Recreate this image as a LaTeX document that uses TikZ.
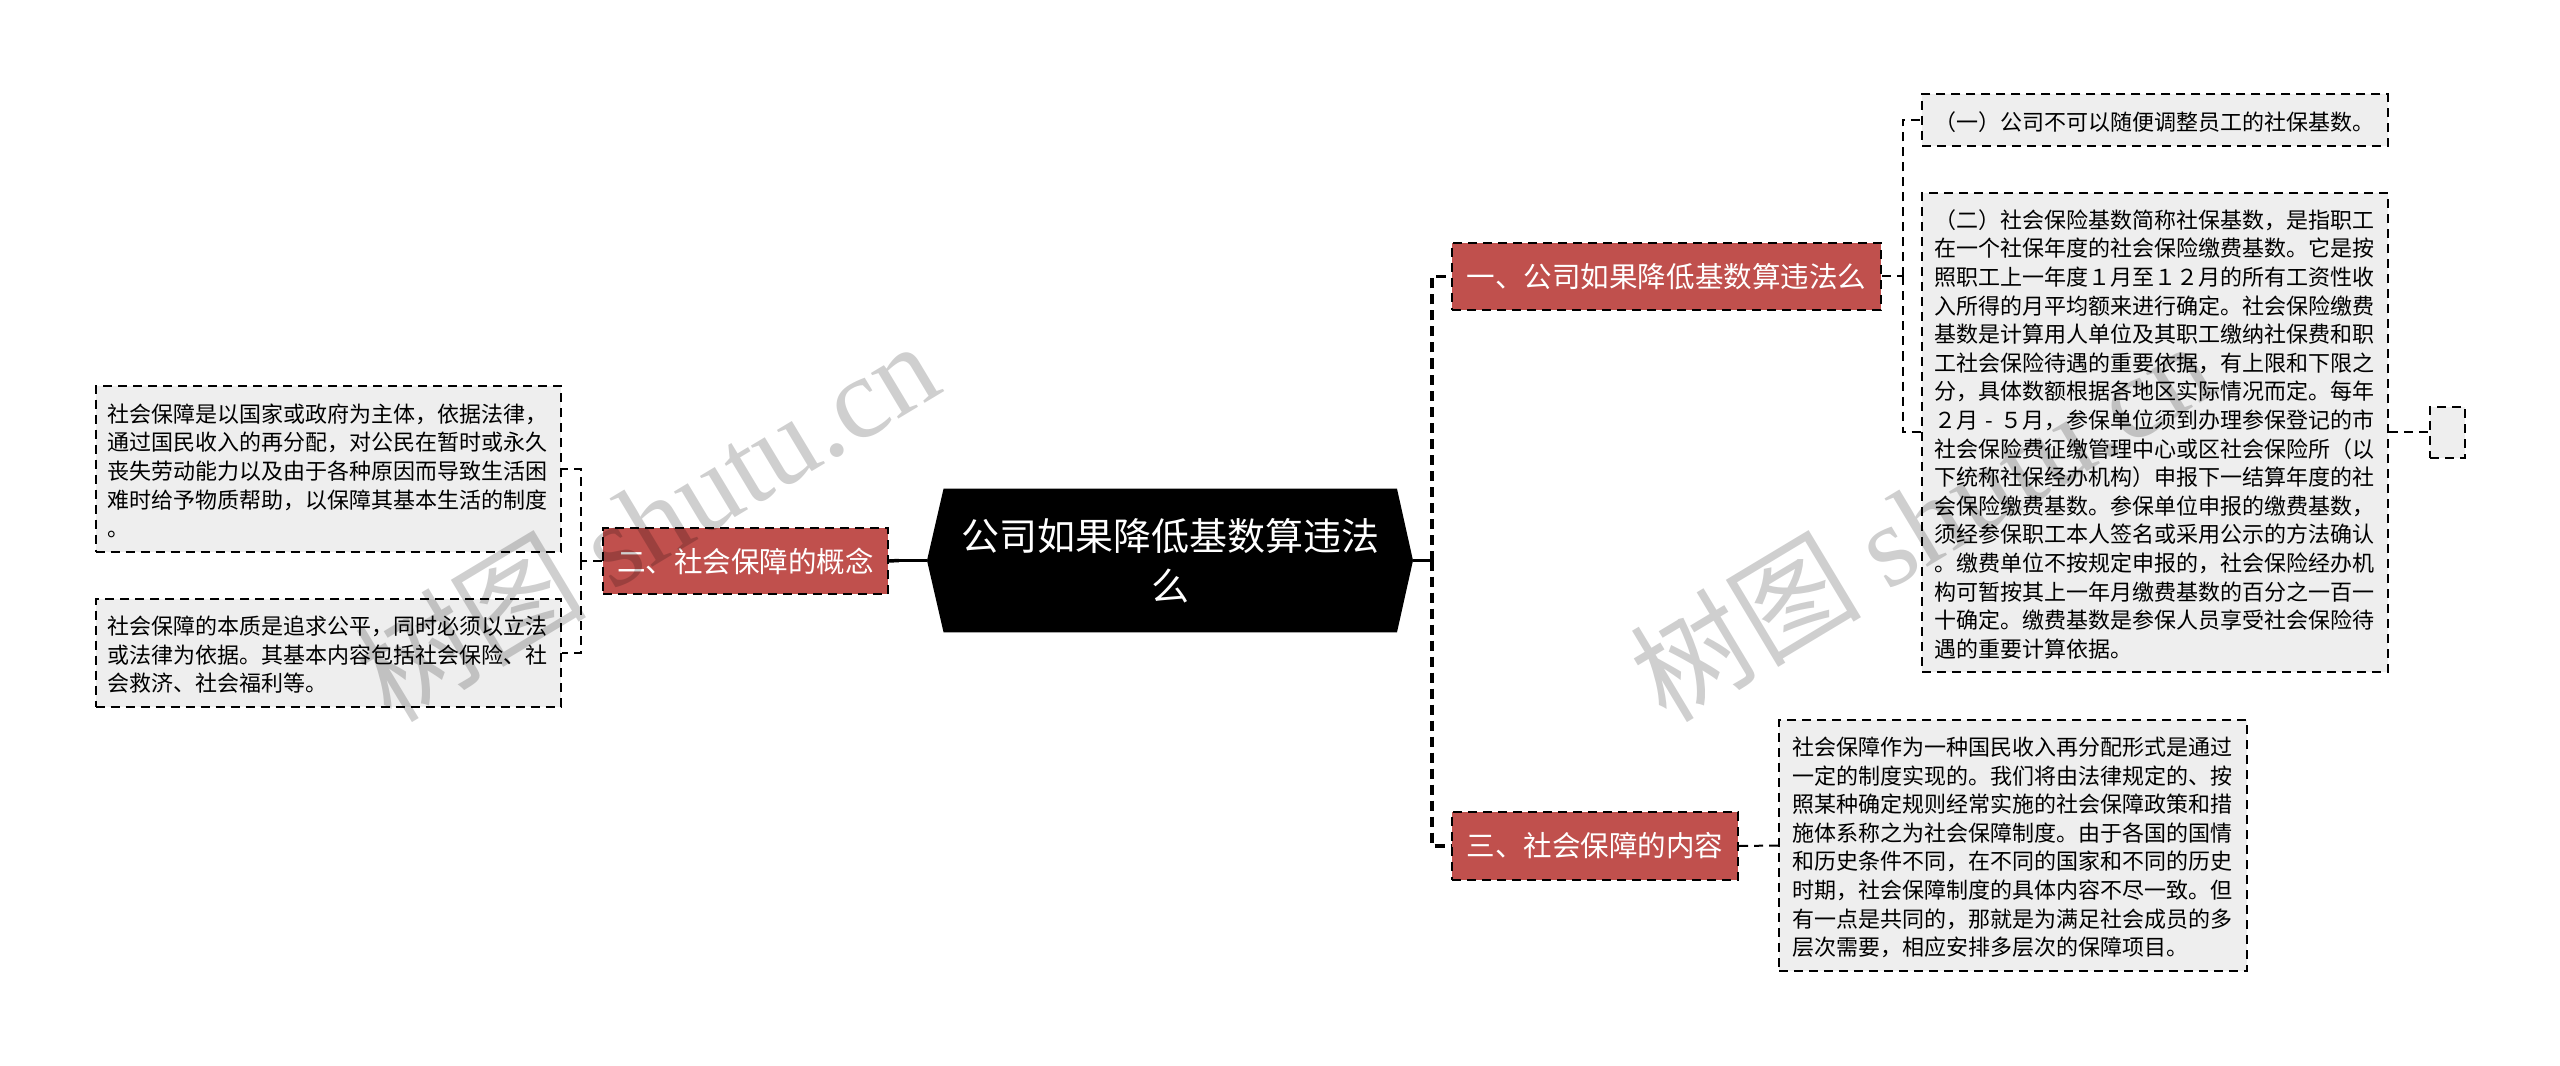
\documentclass[tikz,border=0pt]{standalone}
\usepackage{fontspec}
\setmainfont{Noto Sans CJK SC}
\newfontfamily\wmlatin{Liberation Serif}
\definecolor{redbox}{HTML}{C0504D}
\definecolor{greybox}{HTML}{EEEEEE}
\newcommand{\shortdash}{\makebox[16.5pt]{-}}
\tikzset{
  thinline/.style={line width=1.5pt,dash pattern=on 6.75pt off 4.5pt,black},
  thickline/.style={line width=2.6pt,dash pattern=on 7.5pt off 4.5pt,black},
  stemline/.style={line width=2.6pt,black},
  emptybox/.style={draw=black,fill=greybox,line width=1.5pt,dash pattern=on 6.75pt off 4.5pt,inner sep=0pt},
  leafbox/.style={emptybox,text width=330.5pt,align=left,text=black,font=\fontsize{16.5}{21.45}\selectfont,execute at begin node={\rule{0pt}{17pt}}},
  redtopic/.style={draw=black,fill=redbox,line width=1.5pt,dash pattern=on 6.75pt off 4.5pt,inner sep=0pt,text=white,font=\fontsize{21.4}{28}\selectfont},
  rootbox/.style={inner sep=0pt,align=center,text=white,font=\fontsize{28.5}{37.5}\selectfont},
  watermark/.style={rotate=31,text=black,text opacity=0.19,inner sep=0pt,font=\fontsize{87}{92}\selectfont}
}
\begin{document}
\begin{tikzpicture}[x=0.75pt,y=-0.75pt]
\useasboundingbox (0,0) rectangle (2560,1066);
% root
\node[rootbox,minimum width=364.1pt,minimum height=107.25pt] (root) at (1170,560.5) {};
\fill[black] (root.west) -- ([xshift=12.4pt]root.north west) -- ([xshift=-12pt]root.north east) -- (root.east) -- ([xshift=-12pt]root.south east) -- ([xshift=12.4pt]root.south west) -- cycle;
\node[rootbox] (roottext) at (root.center) {公司如果降低基数算违法\\么};
% topics
\node[redtopic,minimum width=321.75pt,minimum height=50.25pt] (red1) at (1666.5,276.5) {一、公司如果降低基数算违法么};
\node[redtopic,minimum width=213.75pt,minimum height=49.5pt] (red2) at (745.5,561) {二、社会保障的概念};
\node[redtopic,minimum width=214.5pt,minimum height=51pt] (red3) at (1595,846) {三、社会保障的内容};
% leaves
\node[leafbox,minimum width=349.5pt,minimum height=38.5pt] (box1) at (2155,120) {（一）公司不可以随便调整员工的社保基数。};
\node[leafbox,minimum width=349.5pt,minimum height=359pt] (box2) at (2155,432.4) {（二）社会保险基数简称社保基数，是指职工\\
在一个社保年度的社会保险缴费基数。它是按\\
照职工上一年度１月至１２月的所有工资性收\\
入所得的月平均额来进行确定。社会保险缴费\\
基数是计算用人单位及其职工缴纳社保费和职\\
工社会保险待遇的重要依据，有上限和下限之\\
分，具体数额根据各地区实际情况而定。每年\\
２月\shortdash ５月，参保单位须到办理参保登记的市\\
社会保险费征缴管理中心或区社会保险所（以\\
下统称社保经办机构）申报下一结算年度的社\\
会保险缴费基数。参保单位申报的缴费基数，\\
须经参保职工本人签名或采用公示的方法确认\\
。缴费单位不按规定申报的，社会保险经办机\\
构可暂按其上一年月缴费基数的百分之一百一\\
十确定。缴费基数是参保人员享受社会保险待\\
遇的重要计算依据。};
\node[emptybox,minimum width=26.25pt,minimum height=38.25pt] (small) at (2447.5,432.4) {};
\node[leafbox,minimum width=351pt,minimum height=188.25pt] (box3) at (2013,845.5) {社会保障作为一种国民收入再分配形式是通过\\
一定的制度实现的。我们将由法律规定的、按\\
照某种确定规则经常实施的社会保障政策和措\\
施体系称之为社会保障制度。由于各国的国情\\
和历史条件不同，在不同的国家和不同的历史\\
时期，社会保障制度的具体内容不尽一致。但\\
有一点是共同的，那就是为满足社会成员的多\\
层次需要，相应安排多层次的保障项目。};
\node[leafbox,minimum width=349pt,minimum height=124.25pt] (left1) at (328.3,468.8) {社会保障是以国家或政府为主体，依据法律，\\
通过国民收入的再分配，对公民在暂时或永久\\
丧失劳动能力以及由于各种原因而导致生活困\\
难时给予物质帮助，以保障其基本生活的制度\\
。};
\node[leafbox,minimum width=349pt,minimum height=80.75pt] (left2) at (328.3,652.8) {社会保障的本质是追求公平，同时必须以立法\\
或法律为依据。其基本内容包括社会保险、社\\
会救济、社会福利等。};
% connectors
\draw[stemline] (root.east) -- ++(19,0) coordinate (rj);
\draw[thickline] (rj) |- (red1.west);
\draw[thickline] (rj) |- (red3.west);
\draw[stemline] (root.west) -- ++(-28,0) coordinate (lj);
\draw[thickline] (lj) -- (red2.east);
\draw[thinline] (red1.east) -- ++(20.5,0) coordinate (r1j);
\draw[thinline] (r1j) |- (box1.west);
\draw[thinline] (r1j) |- (box2.west);
\draw[thinline] (box2.east) -- (small.west);
\draw[thinline] (red3.east) -- (box3.west);
\draw[thinline] (red2.west) -- ++(-21.3,0) coordinate (l2j);
\draw[thinline] (l2j) |- (left1.east);
\draw[thinline] (l2j) |- (left2.east);
% watermarks
\node[watermark] (wm1) at (646,520) {树图 {\wmlatin shutu.cn}};
\node[watermark] (wm2) at (1921,520) {树图 {\wmlatin shutu.cn}};
\end{tikzpicture}
\end{document}
